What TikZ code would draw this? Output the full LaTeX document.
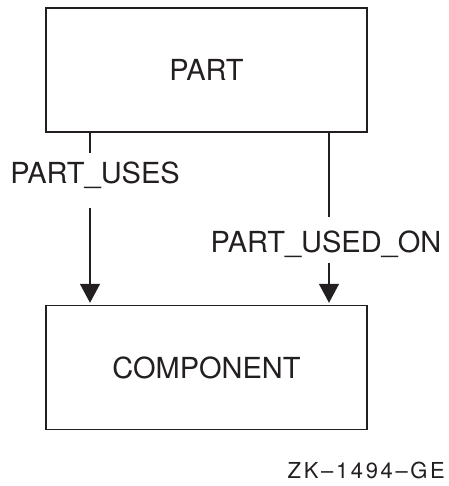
\documentclass[tikz,border=0pt]{standalone}
\usepackage{fontspec}
\setmainfont{TeX Gyre Heros}
\usetikzlibrary{arrows.meta}
\definecolor{ink}{HTML}{231F20}
\tikzset{
	entity/.style={draw=ink, line width=1.4pt, minimum width=321pt, minimum height=124pt,
		font=\fontsize{29}{34}\selectfont, text=ink},
	rel/.style={inner sep=0pt, anchor=base, text height=20.8pt, text depth=0pt,
		font=\fontsize{29}{34}\selectfont, text=ink},
	link/.style={draw=ink, line width=1.4pt},
	tolink/.style={link, -{Triangle[width=20pt,length=19pt]}, shorten >=2pt}
}
\begin{document}
\begin{tikzpicture}[x=1pt,y=-1pt]
	\useasboundingbox (0,0) rectangle (448,486);
	\node[entity] (part) at (206.5,70) {PART};
	\node[entity] (comp) at (206.5,367.5) {COMPONENT};
	\node[rel] (uses) at (95,183) {PART\_USES};
	\node[rel] (usedon) at (326,252) {PART\_USED\_ON};
	\node[inner sep=0pt, anchor=base east, text=ink,
		font=\fontsize{22}{26}\selectfont\addfontfeature{LetterSpace=12}] (fig) at (445,478) {ZK--1494--GE};
	\coordinate (l) at (90,0);
	\coordinate (r) at (329,0);
	% PART_USES
	\draw[link] (part.south -| l) -- ([yshift=9pt]uses.north -| l);
	\draw[tolink] ([yshift=-25pt]uses.south -| l) -- (comp.north -| l);
	% PART_USED_ON
	\draw[link] (part.south -| r) -- ([yshift=14pt]usedon.north -| r);
	\draw[tolink] ([yshift=-11pt]usedon.south -| r) -- (comp.north -| r);
\end{tikzpicture}
\end{document}
